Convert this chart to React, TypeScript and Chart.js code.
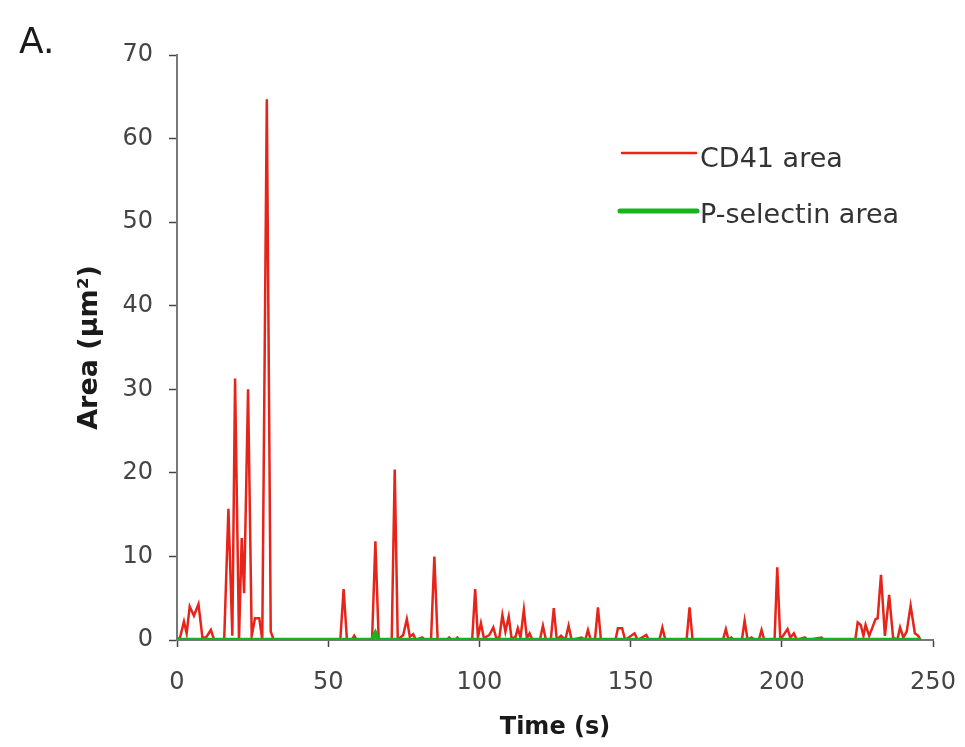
import React, { useEffect, useRef } from "react";
import { Chart, registerables } from "chart.js";

Chart.register(...registerables);

// CD41 area (µm²) over time (s)
const cd41Time = [
  0, 1, 2.3, 3.2, 4.2, 5.6, 7.1, 8.4, 9.6, 11.2,
  12.3, 15.6, 17.0, 18.3, 19.2, 20.5, 21.4, 22.2, 23.5, 24.7,
  25.8, 27.2, 28.2, 29.7, 31.0, 32.0, 54.0, 55.1, 56.2, 57.8,
  58.6, 59.4, 64.5, 65.6, 66.7, 71.0, 72.0, 73.0, 74.8, 76.0,
  77.0, 78.1, 79.0, 81.1, 82.0, 84.0, 85.1, 86.2, 89.2, 90.0,
  90.8, 92.0, 92.7, 93.5, 97.6, 98.6, 99.5, 100.5, 101.5, 103.3,
  104.6, 105.6, 106.6, 107.6, 108.6, 109.7, 110.6, 111.8, 112.7, 113.6,
  114.7, 115.7, 116.6, 117.5, 120.0, 121.0, 122.0, 123.6, 124.6, 125.6,
  127.0, 128.4, 129.5, 130.5, 133.7, 135.0, 135.9, 136.8, 138.2, 139.2,
  140.2, 145.0, 145.8, 147.2, 148.2, 151.3, 152.3, 155.2, 156.0, 159.5,
  160.5, 161.5, 168.5, 169.5, 170.5, 180.5, 181.5, 182.4, 183.3, 184.0,
  186.8, 187.7, 188.7, 190.0, 191.0, 192.4, 193.3, 194.2, 197.6, 198.5,
  199.5, 201.9, 202.8, 204.0, 205.0, 207.6, 208.5, 213.1, 214.0, 224.3,
  225.1, 226.1, 227.0, 227.7, 228.9, 231.0, 231.7, 232.8, 234.1, 235.5,
  236.8, 238.2, 239.1, 240.2, 241.3, 242.6, 244.0, 245.1, 245.9,
];
const cd41Area = [
  0, 0.3, 2.2, 0.8, 4.0, 2.9, 4.3, 0.3, 0.3, 1.2,
  0, 0, 15.7, 0.5, 31.3, 0, 12.2, 5.6, 30.0, 0.5,
  2.6, 2.6, 0, 64.7, 1.0, 0, 0, 6.1, 0, 0,
  0.5, 0, 0, 11.8, 0, 0, 20.4, 0, 0.6, 2.5,
  0.4, 0.7, 0, 0.3, 0, 0, 10.0, 0, 0, 0.3,
  0, 0, 0.3, 0, 0, 6.1, 0.3, 2.0, 0.2, 0.6,
  1.5, 0.2, 0.3, 3.0, 1.0, 2.8, 0.3, 0.2, 1.4, 0.3,
  3.6, 0.2, 0.8, 0, 0, 1.7, 0, 0, 3.8, 0,
  0.5, 0, 1.7, 0, 0.3, 0, 1.2, 0, 0, 3.9,
  0, 0, 1.4, 1.4, 0, 0.8, 0, 0.6, 0, 0,
  1.5, 0, 0, 3.9, 0, 0, 1.3, 0, 0.3, 0,
  0, 2.3, 0, 0.3, 0, 0, 1.2, 0, 0, 8.7,
  0, 1.3, 0.3, 0.8, 0, 0.3, 0, 0.3, 0, 0,
  2.1, 1.8, 0.5, 1.8, 0.5, 2.5, 2.6, 7.8, 0.5, 5.4,
  0.3, 0, 1.5, 0.3, 1.0, 4.1, 0.8, 0.5, 0,
];

// P-selectin area (µm²) over time (s)
const pselTime = [0, 64.5, 65.6, 66.7, 245.9];
const pselArea = [0, 0, 0.8, 0, 0];

const xTicks = [0, 50, 100, 150, 200, 250];
const yTicks = [0, 10, 20, 30, 40, 50, 60, 70];

const seriesNames = ["CD41 area", "P-selectin area"];
const seriesColors = ["#e6241a", "#16b31a"];

const TEXT = "#333333";

const legendPlugin = {
  id: "customLegend",
  afterDraw(chart: any) {
    const ctx = chart.ctx;
    ctx.save();
    // panel label
    ctx.fillStyle = "#1a1a1a";
    ctx.font = "36px 'DejaVu Sans'";
    ctx.textBaseline = "alphabetic";
    ctx.textAlign = "left";
    ctx.fillText("A.", 19, 53);
    // legend
    ctx.font = "27px 'DejaVu Sans'";
    ctx.textBaseline = "middle";
    ctx.lineCap = "round";
    ctx.strokeStyle = seriesColors[0];
    ctx.lineWidth = 2.5;
    ctx.beginPath();
    ctx.moveTo(622, 153);
    ctx.lineTo(696, 153);
    ctx.stroke();
    ctx.fillStyle = TEXT;
    ctx.fillText(seriesNames[0], 700, 160);
    ctx.strokeStyle = seriesColors[1];
    ctx.lineWidth = 5;
    ctx.beginPath();
    ctx.moveTo(620, 211);
    ctx.lineTo(697, 211);
    ctx.stroke();
    ctx.fillStyle = TEXT;
    ctx.fillText(seriesNames[1], 700, 216);
    ctx.restore();
  },
};

export default function App() {
  const ref = useRef<HTMLCanvasElement | null>(null);
  useEffect(() => {
    if (!ref.current) return;
    const chart = new Chart(ref.current, {
      type: "line",
      data: {
        datasets: [
          {
            label: seriesNames[0],
            data: cd41Time.map((t, i) => ({ x: t, y: cd41Area[i] })),
            borderColor: seriesColors[0],
            borderWidth: 2.5,
            pointRadius: 0,
            tension: 0,
            order: 1,
          },
          {
            label: seriesNames[1],
            data: pselTime.map((t, i) => ({ x: t, y: pselArea[i] })),
            borderColor: seriesColors[1],
            borderWidth: 4.5,
            pointRadius: 0,
            tension: 0,
            order: 0,
          },
        ],
      },
      options: {
        responsive: false,
        animation: false,
        layout: { padding: { top: 55, right: 32, left: 0, bottom: 0 } },
        plugins: { legend: { display: false }, tooltip: { enabled: false } },
        scales: {
          x: {
            type: "linear",
            min: 0,
            max: 250,
            afterBuildTicks: (s: any) => {
              s.ticks = xTicks.map((v) => ({ value: v }));
            },
            afterFit: (s: any) => {
              s.height = 107;
              s.paddingLeft = 0;
              s.paddingRight = 0;
            },
            grid: {
              drawOnChartArea: false,
              drawTicks: true,
              tickLength: 7,
              tickColor: "#444",
              tickWidth: 1.5,
            },
            border: { color: "#777", width: 2 },
            ticks: {
              color: "#444",
              font: { family: "'DejaVu Sans'", size: 24 },
              padding: 21,
              maxRotation: 0,
            },
            title: {
              display: true,
              text: "Time (s)",
              color: "#1a1a1a",
              font: { family: "'DejaVu Sans'", size: 24, weight: "bold" },
              padding: { top: 0, bottom: 5 },
            },
          },
          y: {
            type: "linear",
            min: 0,
            max: 70,
            afterBuildTicks: (s: any) => {
              s.ticks = yTicks.map((v) => ({ value: v }));
            },
            afterFit: (s: any) => {
              s.width = 177;
              s.paddingTop = 0;
              s.paddingBottom = 0;
            },
            grid: {
              drawOnChartArea: false,
              drawTicks: true,
              tickLength: 8,
              tickColor: "#444",
              tickWidth: 1.5,
            },
            border: { color: "#777", width: 2 },
            ticks: {
              color: "#444",
              font: { family: "'DejaVu Sans'", size: 24 },
              padding: 16,
            },
            title: {
              display: true,
              text: "Area (µm²)",
              color: "#1a1a1a",
              font: { family: "'DejaVu Sans'", size: 27, weight: "bold" },
              padding: { top: 74, bottom: 0 },
            },
          },
        },
      },
      plugins: [legendPlugin],
    });
    return () => chart.destroy();
  }, []);
  return (
    <div style={{ position: "absolute", left: 0, top: 0, width: 965, height: 747, background: "#fff" }}>
      <canvas ref={ref} width={965} height={747} />
    </div>
  );
}
